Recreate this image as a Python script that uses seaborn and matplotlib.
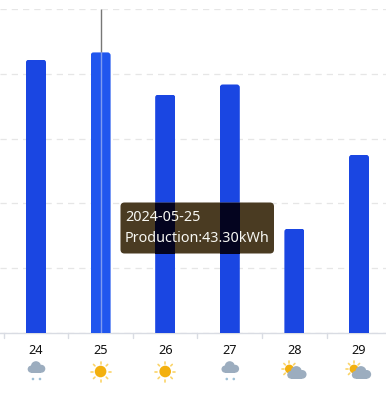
import matplotlib
matplotlib.use("Agg")
import matplotlib.pyplot as plt
import numpy as np
import seaborn as sns
from matplotlib.patches import Circle, FancyBboxPatch, Rectangle

days = ["24", "25", "26", "27", "28", "29"]
production = [42.2, 43.3, 36.8, 38.35, 16.1, 27.5]
weather = ["rain", "sun", "sun", "rain", "partly", "partly"]
y_ticks = [0, 10, 20, 30, 40, 50]
tooltip_lines = ["2024-05-25", "Production:43.30kWh"]
hover_index = 1

W, H = 386, 397
BAR = "#1a46e2"
BAR_HOVER = "#2056ee"

sns.set_theme(style="white")
plt.rcParams["font.family"] = ["Noto Sans", "DejaVu Sans"]

fig = plt.figure(figsize=(W / 100, H / 100), dpi=100)
ax = fig.add_axes([0, (H - 333) / H, 1, 324 / H])

sns.barplot(x=days, y=production, color=BAR, saturation=1, width=0.31, linewidth=0, ax=ax, zorder=3)
ax.set_xlim(-0.557, 5.418)
ax.set_ylim(0, 50)

# round the top corners: 3px radius, clip each bar to a rounded box
x_per_px = (5.418 + 0.557) / W
y_per_px = 50 / 324
bars = list(ax.patches)
for i, p in enumerate(bars):
    if i == hover_index:
        p.set_facecolor(BAR_HOVER)
    rounded = FancyBboxPatch(
        (p.get_x(), -2), p.get_width(), p.get_height() + 2,
        boxstyle=f"round,pad=0,rounding_size={3 * x_per_px}",
        mutation_aspect=y_per_px / x_per_px,
        transform=ax.transData,
    )
    p.set_clip_path(rounded)

# grid + axis
ax.set_yticks(y_ticks)
ax.set_yticklabels([])
ax.tick_params(axis="y", length=0)
ax.grid(axis="y", color="#e6e6e6", linestyle=(0, (5, 4)), linewidth=0.9, zorder=0)
for s in ["top", "left", "right"]:
    ax.spines[s].set_visible(False)
ax.spines["bottom"].set_color("#d9dce3")
ax.spines["bottom"].set_linewidth(1)
ax.set_xticks(np.arange(len(days)))
ax.set_xticklabels(days, fontsize=9.2, color="#111111")
ax.tick_params(axis="x", length=0, pad=8)
for edge in np.arange(len(days) + 1) - 0.5:
    ax.plot([edge, edge], [0, -5 * y_per_px], color="#d9dce3", lw=1, clip_on=False, zorder=2)

# crosshair on the hovered day
ax.vlines(hover_index, production[hover_index], 50, color="#777777", lw=1, zorder=5)
ax.vlines(hover_index, 0, production[hover_index], color="#7f9bf0", lw=1, zorder=5)

# overlay in pixel coordinates for the icons and the tooltip
ov = fig.add_axes([0, 0, 1, 1], facecolor="none")
ov.set_xlim(0, W)
ov.set_ylim(H, 0)
ov.axis("off")


def draw_sun(cx, cy, r, ray_in, ray_out):
    for a in np.arange(8) * np.pi / 4:
        ov.plot([cx + ray_in * np.cos(a), cx + ray_out * np.cos(a)],
                [cy + ray_in * np.sin(a), cy + ray_out * np.sin(a)],
                color="#fbd468", lw=1.2, solid_capstyle="round", zorder=6)
    ov.add_patch(Circle((cx, cy), r, fc="#f3b00e", ec="none", zorder=7))


def draw_cloud(cx, cy, scale=1.0, color="#9cadbf"):
    for dx, dy, r in [(-5, 1.6, 3.4), (-0.5, -1.2, 4.8), (4.6, 1.2, 3.8)]:
        ov.add_patch(Circle((cx + dx * scale, cy + dy * scale), r * scale, fc=color, ec="none", zorder=8))
    ov.add_patch(Rectangle((cx - 5 * scale, cy + 1 * scale), 9.6 * scale, 4 * scale, fc=color, ec="none", zorder=8))


centers = [ax.transData.transform((i, 0))[0] for i in range(len(days))]
for cx, kind in zip(centers, weather):
    if kind == "sun":
        draw_sun(cx, 371.5, 5.8, 8, 10)
    elif kind == "rain":
        draw_cloud(cx + 0.5, 367.5, 1.05)
        ov.add_patch(Circle((cx - 3, 379), 1.3, fc="#9fc0d6", ec="none", zorder=8))
        ov.add_patch(Circle((cx + 4, 379), 1.3, fc="#9fc0d6", ec="none", zorder=8))
    else:
        draw_sun(cx - 5, 369, 4.4, 5.8, 7.8)
        draw_cloud(cx + 2.5, 373, 1.15)

# tooltip: brown box, bars turn near-black where it covers them
box = FancyBboxPatch((120.5, 202.5), 153.5, 51, boxstyle="round,pad=0,rounding_size=4",
                     fc="#4a3b22", ec="none", zorder=10)
ov.add_patch(box)
for p in bars[2:4]:
    x0 = ax.transData.transform((p.get_x(), 0))[0]
    x1 = ax.transData.transform((p.get_x() + p.get_width(), 0))[0]
    ov.add_patch(Rectangle((x0, 202.5), x1 - x0, 51, fc="#04041f", ec="none", zorder=11))
ov.text(125, 217.5, tooltip_lines[0], color="#f7f7f2", fontsize=10.35, va="center", ha="left", zorder=12)
ov.text(125, 238.5, tooltip_lines[1], color="#f7f7f2", fontsize=10.35, va="center", ha="left", zorder=12)

fig.savefig("out.png", dpi=100)
